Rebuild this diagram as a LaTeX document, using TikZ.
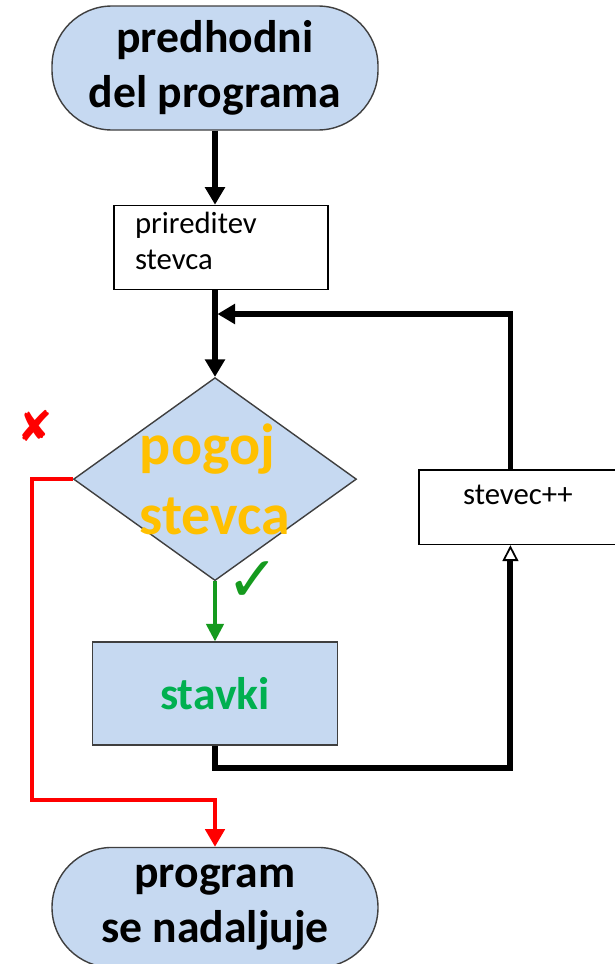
\documentclass[tikz,border=0pt]{standalone}
\usepackage{fontspec}
\setmainfont{Carlito}
\newfontfamily\symfont{DejaVu Sans}
\usetikzlibrary{shapes.geometric, arrows.meta, positioning}
\definecolor{fblue}{HTML}{C6D9F1}
\definecolor{fedge}{HTML}{3F3F3F}
\definecolor{forange}{HTML}{FFC000}
\definecolor{fgreen}{HTML}{00B050}
\definecolor{fyes}{HTML}{159A1E}
\definecolor{fno}{HTML}{FF0000}
\tikzstyle{terminal} = [rectangle, rounded corners=1.2cm, minimum width=6.52cm, minimum height=2.48cm, draw=fedge, line width=0.8pt, fill=fblue, align=center, font=\fontsize{26}{31.5}\selectfont\bfseries]
\tikzstyle{plain} = [rectangle, draw=black, line width=0.8pt, inner ysep=0pt, font=\fontsize{17.5}{20.4}\selectfont]
\tikzstyle{decision} = [diamond, minimum width=5.66cm, minimum height=4.06cm, draw=fedge, line width=0.8pt, fill=fblue, inner sep=0pt]
\tikzstyle{condtext} = [align=left, inner sep=0pt, text=forange, font=\fontsize{33}{39.7}\selectfont\bfseries]
\tikzstyle{process} = [rectangle, minimum width=4.9cm, minimum height=2.06cm, draw=fedge, line width=0.8pt, fill=fblue, text=fgreen, font=\fontsize{26}{31.5}\selectfont\bfseries]
\tikzstyle{flow} = [line width=3pt, -{Triangle[width=11pt,length=10pt]}]
\tikzstyle{backflow} = [line width=3.4pt, -{Triangle[open, line width=1pt, width=9pt, length=9pt]}]
\tikzstyle{yesflow} = [line width=1.8pt, draw=fyes, -{Triangle[width=10pt,length=10pt]}]
\tikzstyle{noflow} = [line width=2pt, draw=fno, -{Triangle[width=11pt,length=10pt]}]
\begin{document}
\begin{tikzpicture}
  \useasboundingbox (0,0) rectangle (12.3,-19.28);
  \node (start) [terminal] at (4.3,-1.36) {predhodni\\del programa};
  \node (assign) [plain, below=1.48cm of start, xshift=0.12cm, text width=3.44cm, align=left, inner xsep=0.42cm, text height=15.9pt, text depth=31.8pt] {prireditev\\stevca};
  \node (cond) [decision, below=1.74cm of assign, xshift=-0.12cm] {};
  \node (condlabel) [condtext] at (cond) {pogoj\\stevca};
  \node (body) [process, below=1.2cm of cond] {stavki};
  \node (incr) [plain, right=1.22cm of cond, yshift=-0.56cm, minimum width=3.96cm, text height=19.8pt, text depth=22.7pt] {stevec++};
  \node (stop) [terminal, below=2.02cm of body, minimum height=2.4cm] {program\\se nadaljuje};
  \node (nomark) at (0.7,-8.52) [text=fno, font=\symfont\fontsize{24}{24}\selectfont] {✘};
  \node (yesmark) at (5.06,-11.64) [text=fyes, font=\symfont\fontsize{36}{36}\selectfont] {✓};
  \coordinate (merge) at (4.3,-6.28);
  \coordinate (nobend) at (4.3,-16.0);
  \draw [flow] (start.south) -- (start.south |- assign.north);
  \draw [flow] (start.south |- assign.south) -- (cond.north);
  \draw [flow, shorten >=1.4pt] ([xshift=-0.15cm]incr.north) |- (merge);
  \draw [yesflow] (cond.south) -- (body.north);
  \draw [backflow] (body.south) -- ++(0,-0.44) -| ([xshift=-0.15cm]incr.south);
  \draw [noflow] (cond.west) -- ++(-0.82,0) |- (nobend) -- (stop.north);
\end{tikzpicture}
\end{document}
